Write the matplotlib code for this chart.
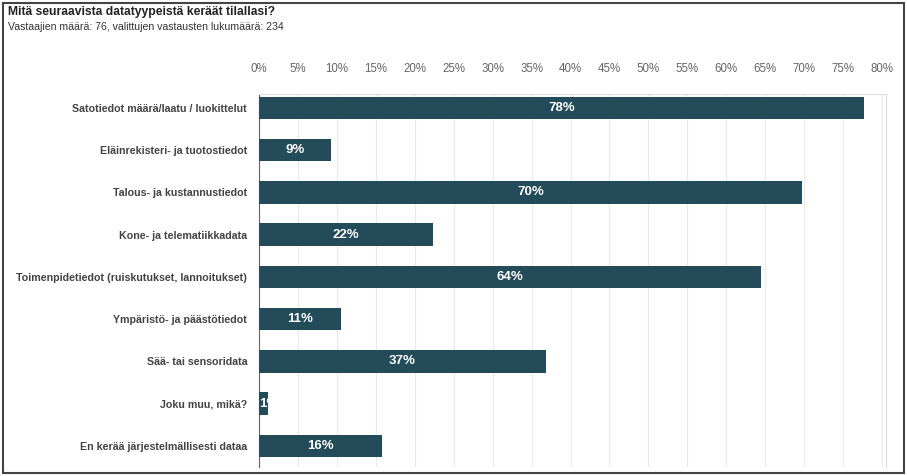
import matplotlib.pyplot as plt
from matplotlib.patches import Rectangle

plt.rcParams["font.family"] = ["Liberation Sans", "DejaVu Sans"]

# Survey answers (share of 76 respondents, %)
categories = [
    "Satotiedot määrä/laatu / luokittelut",
    "Eläinrekisteri- ja tuotostiedot",
    "Talous- ja kustannustiedot",
    "Kone- ja telematiikkadata",
    "Toimenpidetiedot (ruiskutukset, lannoitukset)",
    "Ympäristö- ja päästötiedot",
    "Sää- tai sensoridata",
    "Joku muu, mikä?",
    "En kerää järjestelmällisesti dataa",
]
percentages = [77.63, 9.21, 69.74, 22.37, 64.47, 10.53, 36.84, 1.1, 15.79]
xticks = list(range(0, 85, 5))

title = "Mitä seuraavista datatyypeistä keräät tilallasi?"
subtitle = "Vastaajien määrä: 76, valittujen vastausten lukumäärä: 234"

bar_color = "#234b5a"

fig = plt.figure(figsize=(9.07, 4.76), dpi=100)
W, H = 907, 476
ax = fig.add_axes([259 / W, 1 - 467 / H, (886 - 259) / W, (467 - 94) / H])

ypos = list(range(len(categories)))
bars = ax.barh(ypos, percentages, height=0.53, color=bar_color, zorder=3)

for bar, val in zip(bars, percentages):
    yc = bar.get_y() + bar.get_height() / 2
    if val < 3:
        # too narrow: label starts at the bar's left edge and gets cut
        txt = ax.text(0.05, yc, f"{round(val)}%", ha="left", va="center",
                      color="white", fontsize=9.5, fontweight="bold", zorder=4)
    else:
        txt = ax.text(val / 2, yc, f"{round(val)}%", ha="center", va="center",
                      color="white", fontsize=9.5, fontweight="bold", zorder=4)
    txt.set_clip_path(bar)

ax.set_xlim(0, 80.5)
ax.set_ylim(8.5, -0.33)
ax.set_xticks(xticks)
ax.set_xticklabels([f"{t}%" for t in xticks])
ax.xaxis.tick_top()
ax.tick_params(axis="x", length=0, pad=14, labelsize=8.3, labelcolor="#666666")
ax.set_yticks(ypos)
ax.set_yticklabels(categories)
ax.tick_params(axis="y", length=0, pad=8.5, labelsize=7.65, labelcolor="#444444")
for lbl in ax.get_yticklabels():
    lbl.set_fontweight("bold")

ax.grid(axis="x", color="#ebebeb", linewidth=1, zorder=0)
for side in ["top", "right"]:
    ax.spines[side].set_color("#dddddd")
ax.spines["bottom"].set_visible(False)
ax.spines["left"].set_color("#666666")

fig.text(8 / W, 1 - 12 / H, title, fontsize=8.7, fontweight="bold",
         color="#222222", va="center")
fig.text(8 / W, 1 - 27 / H, subtitle, fontsize=7.6, color="#333333", va="center")

fig.patches.append(Rectangle((3 / W, 3 / H), 901 / W, 470 / H, transform=fig.transFigure,
                             fill=False, edgecolor="#444444", linewidth=1.5))

fig.savefig("out.png", dpi=100)
